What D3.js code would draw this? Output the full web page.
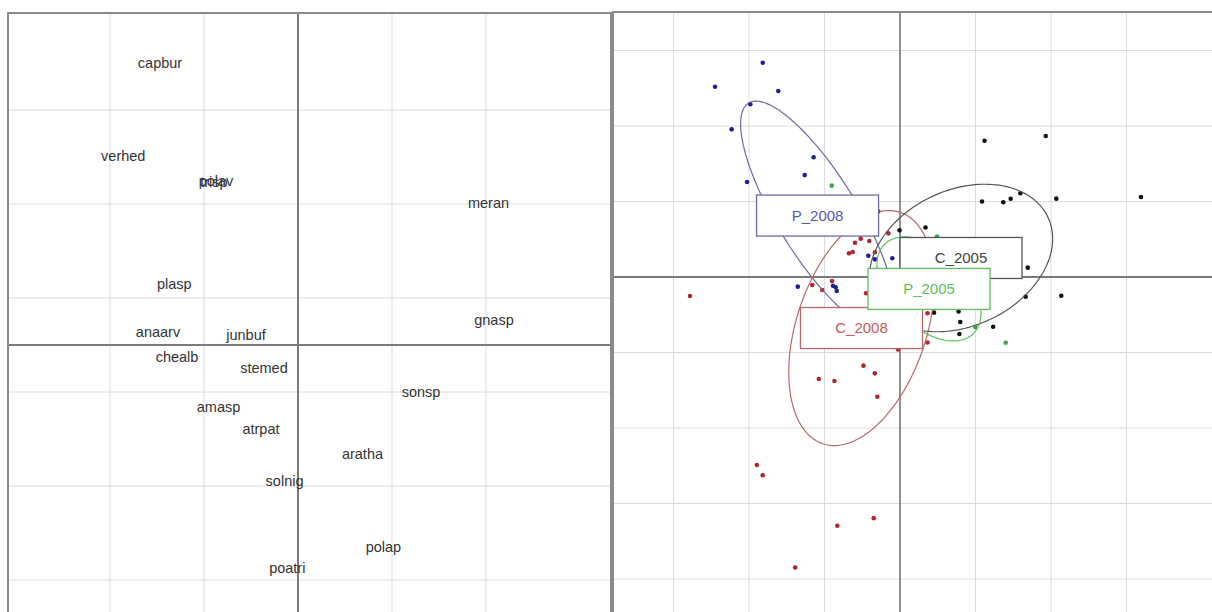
<!DOCTYPE html>
<meta charset="utf-8">
<script src="https://d3js.org/d3.v7.min.js"></script>
<style>
  body { margin: 0; background: #fff; }
  .species { font-family: "Liberation Sans", Arial, sans-serif; font-size: 14.5px; fill: #333; }
  .grp { font-family: "Liberation Sans", Arial, sans-serif; font-size: 15px; }
</style>
<div id="chart"></div>
<script>
// ---------- left panel : species scores ----------
var speciesNames = ["capbur","verhed","trisp","polav","meran","plasp","gnasp","anaarv","junbuf",
                    "chealb","stemed","sonsp","amasp","atrpat","aratha","solnig","polap","poatri"];
var speciesX = [-1.468,-1.859,-0.894,-0.872, 2.027,-1.316, 2.085,-1.489,-0.553,
                -1.287,-0.362, 1.309,-0.845,-0.394, 0.686,-0.143, 0.909,-0.114];
var speciesY = [ 3.003, 2.016, 1.739, 1.745, 1.516, 0.649, 0.266, 0.135, 0.106,
                -0.128,-0.245,-0.503,-0.656,-0.890,-1.160,-1.447,-2.146,-2.376];
var leftGridX = [-2,-1,0,1,2];
var leftGridY = [-2.5,-1.5,-0.5,0.5,1.5,2.5];

// ---------- right panel : site scores by group ----------
var groupNames = ["P_2008","C_2008","C_2005","P_2005"];
var centroidX = [-0.546,-0.255, 0.404, 0.192];
var centroidY = [ 0.407,-0.338, 0.126,-0.079];
var ellipseA  = [0.874, 0.808, 0.636, 0.417];
var ellipseB  = [0.265, 0.430, 0.450, 0.252];
var ellipseAngle = [-58.5, 71.5, 25, -45];   // degrees, data space

var siteGroup = [
  "P_2008","P_2008","P_2008","P_2008","P_2008","P_2008","P_2008","P_2008",
  "P_2008","P_2008","P_2008","P_2008","P_2008","P_2008","P_2008","P_2008",
  "C_2008","C_2008","C_2008","C_2008","C_2008","C_2008","C_2008","C_2008","C_2008",
  "C_2008","C_2008","C_2008","C_2008","C_2008","C_2008","C_2008","C_2008","C_2008",
  "C_2008","C_2008","C_2008","C_2008","C_2008","C_2008","C_2008",
  "C_2005","C_2005","C_2005","C_2005","C_2005","C_2005","C_2005","C_2005","C_2005",
  "C_2005","C_2005","C_2005","C_2005","C_2005","C_2005","C_2005","C_2005","C_2005",
  "P_2005","P_2005","P_2005","P_2005"];
var siteX = [
  -0.909,-1.225,-0.806,-0.991,-1.115,-0.572,-0.631,-1.013,
  -0.144,-0.210,-0.166,-0.051,-0.677,-0.444,-0.426,-0.419,
  -1.391,-0.298,-0.260,-0.203,-0.338,-0.313,-0.166,-0.077,-0.581,
  -0.515,-0.450,-0.225, 0.182, 0.182,-0.013,-0.242,-0.167,-0.538,
  -0.434,-0.150,-0.948,-0.909,-0.174,-0.415,-0.694,
   0.560, 0.965, 0.543, 0.684, 0.733, 0.797, 1.035, 1.596,-0.003,
   0.169, 0.846, 0.832, 1.068, 0.388, 0.225, 0.399, 0.617, 0.393,
  -0.452, 0.245, 0.499, 0.700];
var siteY = [
   1.419, 1.260, 1.232, 1.144, 0.978, 0.793, 0.675, 0.629,
   0.434, 0.141, 0.117, 0.124,-0.064,-0.058,-0.068,-0.093,
  -0.126, 0.227, 0.254, 0.238, 0.157, 0.166, 0.164, 0.289,-0.053,
  -0.086,-0.026,-0.108,-0.240,-0.434,-0.480,-0.587,-0.638,-0.675,
  -0.689,-0.793,-1.245,-1.313,-1.597,-1.647,-1.924,
   0.902, 0.934, 0.500, 0.495, 0.518, 0.555, 0.519, 0.530, 0.309,
   0.328, 0.062,-0.130,-0.124,-0.228,-0.236,-0.298,-0.329,-0.377,
   0.605, 0.268,-0.333,-0.435];
var rightGridX = [-1.5,-1,-0.5,0,0.5,1,1.5];
var rightGridY = [-2,-1.5,-1,-0.5,0,0.5,1,1.5];

// ---------- styles ----------
var dotColor  = {"P_2008":"#1f1f8f","C_2008":"#b3232b","C_2005":"#111111","P_2005":"#39a845"};
var lineColor = {"P_2008":"#6c6ca3","C_2008":"#b36a6a","C_2005":"#555555","P_2005":"#5fbf5f"};
var textColor = {"P_2008":"#5757b0","C_2008":"#c25a5a","C_2005":"#444444","P_2005":"#5cc05c"};

var W = 1212, H = 612;
var svg = d3.select("#chart").append("svg").attr("width", W).attr("height", H);

var xL = d3.scaleLinear().domain([-3.085, 3.330]).range([8, 611]);
var yL = d3.scaleLinear().domain([3.532, -2.840]).range([13, 612]);
var xR = d3.scaleLinear().domain([-1.9007, 2.0662]).range([613, 1212]);
var yR = d3.scaleLinear().domain([1.755, -2.2185]).range([12, 612]);

function panel(id, x0, y0, x1, y1) {
  svg.append("clipPath").attr("id", id).append("rect")
    .attr("x", x0).attr("y", y0).attr("width", x1 - x0).attr("height", y1 - y0);
  return svg.append("g").attr("clip-path", "url(#" + id + ")");
}

// ----- left -----
var gl = panel("clipL", 8, 13, 611, 620);
gl.selectAll(".gx").data(leftGridX).enter().append("line")
  .attr("x1", d => xL(d)).attr("x2", d => xL(d)).attr("y1", 13).attr("y2", 620)
  .attr("stroke", "#dcdcdc").attr("stroke-width", 1);
gl.selectAll(".gy").data(leftGridY).enter().append("line")
  .attr("x1", 8).attr("x2", 611).attr("y1", d => yL(d)).attr("y2", d => yL(d))
  .attr("stroke", "#dcdcdc").attr("stroke-width", 1);
gl.append("line").attr("x1", xL(0)).attr("x2", xL(0)).attr("y1", 13).attr("y2", 620)
  .attr("stroke", "#7a7a7a").attr("stroke-width", 2);
gl.append("line").attr("x1", 8).attr("x2", 611).attr("y1", yL(0)).attr("y2", yL(0))
  .attr("stroke", "#7a7a7a").attr("stroke-width", 2);
gl.selectAll(".species").data(speciesNames).enter().append("text")
  .attr("class", "species")
  .attr("x", (d, i) => xL(speciesX[i]))
  .attr("y", (d, i) => yL(speciesY[i]))
  .attr("text-anchor", "middle").attr("dy", "0.35em")
  .text(d => d);
svg.append("rect").attr("x", 8).attr("y", 13).attr("width", 603).attr("height", 620)
  .attr("fill", "none").attr("stroke", "#8a8a8a").attr("stroke-width", 2);

// ----- right -----
var gr = panel("clipR", 613, 12, 1215, 620);
gr.selectAll(".gx").data(rightGridX).enter().append("line")
  .attr("x1", d => xR(d)).attr("x2", d => xR(d)).attr("y1", 12).attr("y2", 620)
  .attr("stroke", "#dcdcdc").attr("stroke-width", 1);
gr.selectAll(".gy").data(rightGridY).enter().append("line")
  .attr("x1", 613).attr("x2", 1215).attr("y1", d => yR(d)).attr("y2", d => yR(d))
  .attr("stroke", "#dcdcdc").attr("stroke-width", 1);
gr.append("line").attr("x1", xR(0)).attr("x2", xR(0)).attr("y1", 12).attr("y2", 620)
  .attr("stroke", "#7a7a7a").attr("stroke-width", 1.6);
gr.append("line").attr("x1", 613).attr("x2", 1215).attr("y1", yR(0)).attr("y2", yR(0))
  .attr("stroke", "#7a7a7a").attr("stroke-width", 2);

gr.selectAll(".site").data(siteGroup).enter().append("circle")
  .attr("cx", (d, i) => xR(siteX[i]))
  .attr("cy", (d, i) => yR(siteY[i]))
  .attr("r", 2.3)
  .attr("fill", d => dotColor[d]);

var line = d3.line().x(d => xR(d[0])).y(d => yR(d[1])).curve(d3.curveLinearClosed);
groupNames.forEach(function (g, i) {
  var phi = ellipseAngle[i] * Math.PI / 180;
  var pts = d3.range(0, 2 * Math.PI, Math.PI / 80).map(function (t) {
    var u = ellipseA[i] * Math.cos(t), v = ellipseB[i] * Math.sin(t);
    return [centroidX[i] + u * Math.cos(phi) - v * Math.sin(phi),
            centroidY[i] + u * Math.sin(phi) + v * Math.cos(phi)];
  });
  gr.append("path").attr("d", line(pts))
    .attr("fill", "none").attr("stroke", lineColor[g]).attr("stroke-width", 1.2);
});

// label boxes, drawn in reverse so P_2008 ... order matches overlap
var boxW = 122, boxH = 41;
["P_2008", "C_2005", "C_2008", "P_2005"].forEach(function (g) {
  var i = groupNames.indexOf(g);
  var cx = xR(centroidX[i]), cy = yR(centroidY[i]);
  gr.append("rect").attr("x", cx - boxW / 2).attr("y", cy - boxH / 2)
    .attr("width", boxW).attr("height", boxH)
    .attr("fill", "#fff").attr("stroke", lineColor[g]).attr("stroke-width", 1.3);
  gr.append("text").attr("class", "grp").attr("x", cx).attr("y", cy)
    .attr("text-anchor", "middle").attr("dy", "0.36em")
    .attr("fill", textColor[g]).text(g);
});
svg.append("rect").attr("x", 613).attr("y", 12).attr("width", 620).attr("height", 620)
  .attr("fill", "none").attr("stroke", "#8a8a8a").attr("stroke-width", 2);
</script>
